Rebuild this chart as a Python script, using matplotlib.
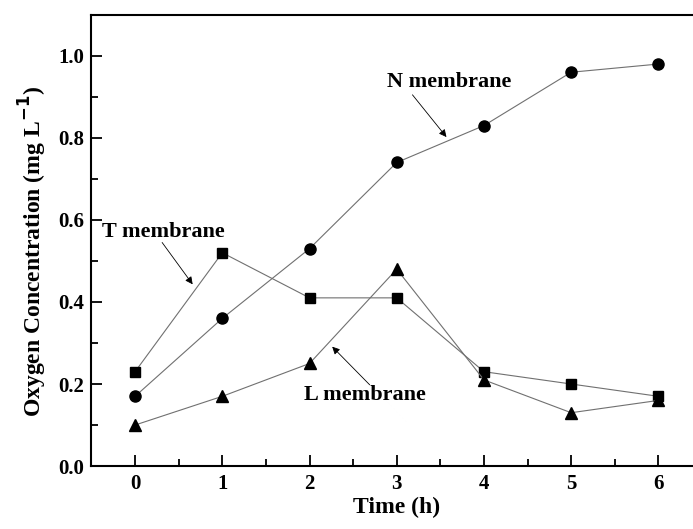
import numpy as np
import matplotlib.pyplot as plt
from matplotlib.ticker import MultipleLocator

plt.rcParams['font.family'] = 'Liberation Serif'
plt.rcParams['font.weight'] = 'bold'

time_h = [0, 1, 2, 3, 4, 5, 6]
n_membrane = [0.17, 0.36, 0.53, 0.74, 0.83, 0.96, 0.98]
t_membrane = [0.23, 0.52, 0.41, 0.41, 0.23, 0.20, 0.17]
l_membrane = [0.10, 0.17, 0.25, 0.48, 0.21, 0.13, 0.16]

fig = plt.figure(figsize=(6.93, 5.29), dpi=100)
ax = fig.add_axes([0.132, 0.119, 0.881, 0.853])

ax.plot(time_h, n_membrane, color='#707070', lw=0.8, marker='o', ms=8, mfc='black', mec='black')
ax.plot(time_h, t_membrane, color='#707070', lw=0.8, marker='s', ms=7.5, mfc='black', mec='black')
ax.plot(time_h, l_membrane, color='#707070', lw=0.8, marker='^', ms=9, mfc='black', mec='black')

# labels with arrows pointing at each curve
arrow = dict(arrowstyle='-|>', color='black', lw=0.6, mutation_scale=11, shrinkA=0, shrinkB=0)
ax.annotate('', xy=(3.57, 0.802), xytext=(3.18, 0.905), arrowprops=arrow)
ax.text(3.60, 0.936, 'N membrane', fontsize=16, fontweight='bold', ha='center', va='center')
ax.annotate('', xy=(0.66, 0.443), xytext=(0.31, 0.545), arrowprops=arrow)
ax.text(0.33, 0.57, 'T membrane', fontsize=16, fontweight='bold', ha='center', va='center')
ax.annotate('', xy=(2.26, 0.291), xytext=(2.69, 0.198), arrowprops=arrow)
ax.text(2.64, 0.174, 'L membrane', fontsize=16, fontweight='bold', ha='center', va='center')

ax.set_xlim(-0.5, 6.5)
ax.set_ylim(0, 1.1)
ax.xaxis.set_major_locator(MultipleLocator(1))
ax.xaxis.set_minor_locator(MultipleLocator(0.5))
ax.yaxis.set_major_locator(MultipleLocator(0.2))
ax.yaxis.set_minor_locator(MultipleLocator(0.1))
ax.tick_params(which='both', direction='in', width=1.3, labelsize=15)
ax.tick_params(which='major', length=8)
ax.tick_params(which='minor', length=5)
ax.tick_params(axis='x', pad=6)
ax.tick_params(axis='y', pad=5)
for lab in ax.get_xticklabels() + ax.get_yticklabels():
    lab.set_fontweight('bold')
for s in ax.spines.values():
    s.set_linewidth(1.5)

ax.set_xlabel('Time (h)', fontsize=17, fontweight='bold', labelpad=2)
ax.set_ylabel('Oxygen Concentration (mg L$^{\\mathbf{-1}}$)', fontsize=17, fontweight='bold')
ax.yaxis.set_label_coords(-0.07, 0.475)

fig.savefig('out.png', dpi=100)
